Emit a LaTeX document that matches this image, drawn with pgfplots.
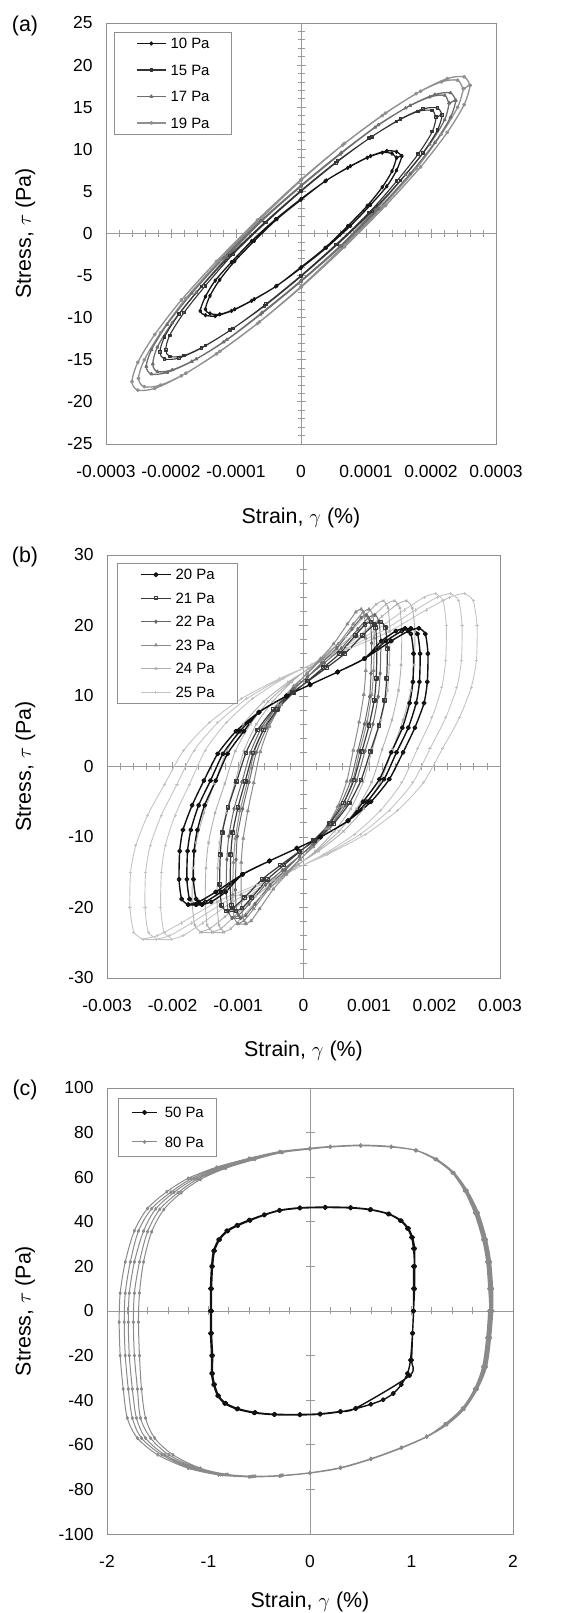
\documentclass[border=0pt]{standalone}
\usepackage{fontspec}
\setmainfont{Liberation Sans}
\usepackage{pgfplots}
\pgfplotsset{compat=1.18}
\definecolor{framegray}{HTML}{8F8F8F}
\definecolor{axgray}{HTML}{9A9A9A}
\definecolor{ca}{HTML}{151515}
\definecolor{cb}{HTML}{333333}
\definecolor{cc}{HTML}{6E6E6E}
\definecolor{cd}{HTML}{909090}
\definecolor{b20}{HTML}{111111}
\definecolor{b21}{HTML}{3A3A3A}
\definecolor{b22}{HTML}{6A6A6A}
\definecolor{b23}{HTML}{8C8C8C}
\definecolor{b24}{HTML}{B0B0B0}
\definecolor{b25}{HTML}{C4C4C4}
\definecolor{c80}{HTML}{8A8A8A}
\pgfplotsset{
  centeraxis/.style={
    scale only axis, anchor=south west,
    axis lines=middle,
    axis line style={axgray, line width=0.8bp, -},
    tick style={axgray, line width=0.8bp},
    tick align=center,
    major tick length=9bp, minor tick length=7bp,
    xticklabels={}, yticklabels={}, scaled ticks=false,
  },
  dataaxis/.style={
    scale only axis, anchor=south west,
    axis line style={framegray, line width=0.9bp},
    tick style={draw=none}, scaled ticks=false,
    ticklabel style={font=\fontsize{17.5}{20}\selectfont},
    xticklabel style={yshift=-18bp},
    yticklabel style={xshift=-10bp},
    label style={font=\fontsize{21.5}{25}\selectfont},
    xlabel style={anchor=center},
    ylabel style={anchor=center},
    legend cell align=left,
    legend style={draw=framegray, line width=0.8bp, font=\fontsize{15}{18}\selectfont,
      anchor=north west, column sep=4bp,
      nodes={inner sep=0bp, text height=10.5bp, text depth=0bp}},
    every axis plot/.append style={line join=round, mark options={solid}},
  },
}
\begin{document}
\begin{tikzpicture}
\useasboundingbox (0,0) rectangle (573bp,1613bp);
\node[font=\fontsize{21.5}{25}\selectfont] at (25bp,1587bp) {(a)};
\node[font=\fontsize{21.5}{25}\selectfont] at (25bp,1056bp) {(b)};
\node[font=\fontsize{21.5}{25}\selectfont] at (25bp,523bp) {(c)};
% ---------------- panel (a)
\begin{axis}[centeraxis, at={(106bp,1169bp)}, width=390bp, height=421bp,
  xmin=-0.0003, xmax=0.0003, ymin=-25, ymax=25,
  xtick={-0.0003,-0.0002,-0.0001,0,0.0001,0.0002,0.0003}, ytick={-25,-20,...,25},
  minor x tick num=4, minor y tick num=4]
\end{axis}
\begin{axis}[dataaxis, at={(106bp,1169bp)}, width=390bp, height=421bp,
  xmin=-0.0003, xmax=0.0003, ymin=-25, ymax=25,
  xtick={-0.0003,-0.0002,-0.0001,0,0.0001,0.0002,0.0003},
  xticklabels={-0.0003,-0.0002,-0.0001,0,0.0001,0.0002,0.0003},
  ytick={-25,-20,...,25}, yticklabels={-25,-20,-15,-10,-5,0,5,10,15,20,25},
  xlabel={Strain, $\gamma$ (\%)}, ylabel={Stress, $\tau$ (Pa)},
  xlabel style={at={(axis description cs:0.5,-0.175)}},
  ylabel style={at={(axis description cs:-0.207,0.5)}},
  legend style={at={(0.02,0.979)}, inner xsep=22bp, inner ysep=6bp, row sep=16bp},
  legend image code/.code={\draw[mark repeat=2,mark phase=2,#1] plot coordinates {(0bp,0bp) (14.5bp,0bp) (29bp,0bp)};},
  reverse legend]
\addplot[cd, line width=1.3bp, smooth, tension=0.5, mark=*, mark size=1.3bp] coordinates {
(2.60e-4,17.6) (2.51e-4,18.6) (2.25e-4,18.4) (1.84e-4,16.9) (1.30e-4,14.3) (0.67e-4,10.7) (0,6.4) (-0.67e-4,1.6) (-1.30e-4,-3.3) (-1.84e-4,-7.9) (-2.25e-4,-12.0) (-2.51e-4,-15.3) (-2.60e-4,-17.6) (-2.51e-4,-18.6) (-2.25e-4,-18.4) (-1.84e-4,-16.9) (-1.30e-4,-14.3) (-0.67e-4,-10.7) (0,-6.4) (0.67e-4,-1.6) (1.30e-4,3.3) (1.84e-4,7.9) (2.25e-4,12.0) (2.51e-4,15.3) (2.60e-4,17.6)
(2.50e-4,17.2) (2.41e-4,18.2) (2.16e-4,18.0) (1.77e-4,16.6) (1.25e-4,14.0) (0.64e-4,10.5) (0,6.3) (-0.64e-4,1.6) (-1.25e-4,-3.2) (-1.77e-4,-7.7) (-2.16e-4,-11.8) (-2.41e-4,-15.0) (-2.50e-4,-17.2) (-2.41e-4,-18.2) (-2.16e-4,-18.0) (-1.77e-4,-16.6) (-1.25e-4,-14.0) (-0.64e-4,-10.5) (0,-6.3) (0.64e-4,-1.6) (1.25e-4,3.2) (1.77e-4,7.7) (2.16e-4,11.8) (2.41e-4,15.0) (2.50e-4,17.2)
};
\addlegendentry{19 Pa}
\addplot[cc, line width=1.3bp, smooth, tension=0.5, mark=triangle*, mark size=1.4bp] coordinates {
(2.38e-4,15.8) (2.30e-4,16.7) (2.06e-4,16.5) (1.68e-4,15.2) (1.19e-4,12.9) (0.62e-4,9.6) (0,5.7) (-0.62e-4,1.5) (-1.19e-4,-2.9) (-1.68e-4,-7.1) (-2.06e-4,-10.8) (-2.30e-4,-13.8) (-2.38e-4,-15.8) (-2.30e-4,-16.7) (-2.06e-4,-16.5) (-1.68e-4,-15.2) (-1.19e-4,-12.9) (-0.62e-4,-9.6) (0,-5.7) (0.62e-4,-1.5) (1.19e-4,2.9) (1.68e-4,7.1) (2.06e-4,10.8) (2.30e-4,13.8) (2.38e-4,15.8)
(2.28e-4,15.5) (2.21e-4,16.4) (1.98e-4,16.2) (1.61e-4,14.9) (1.14e-4,12.6) (0.60e-4,9.4) (0,5.6) (-0.60e-4,1.5) (-1.14e-4,-2.8) (-1.61e-4,-7.0) (-1.98e-4,-10.6) (-2.21e-4,-13.5) (-2.28e-4,-15.5) (-2.21e-4,-16.4) (-1.98e-4,-16.2) (-1.61e-4,-14.9) (-1.14e-4,-12.6) (-0.60e-4,-9.4) (0,-5.6) (0.60e-4,-1.5) (1.14e-4,2.8) (1.61e-4,7.0) (1.98e-4,10.6) (2.21e-4,13.5) (2.28e-4,15.5)
};
\addlegendentry{17 Pa}
\addplot[cb, line width=1.1bp, smooth, tension=0.5, mark=square, mark size=1.3bp] coordinates {
(2.17e-4,14.1) (2.10e-4,14.9) (1.88e-4,14.8) (1.53e-4,13.6) (1.09e-4,11.5) (0.56e-4,8.6) (0,5.1) (-0.56e-4,1.3) (-1.09e-4,-2.6) (-1.53e-4,-6.3) (-1.88e-4,-9.6) (-2.10e-4,-12.3) (-2.17e-4,-14.1) (-2.10e-4,-14.9) (-1.88e-4,-14.8) (-1.53e-4,-13.6) (-1.09e-4,-11.5) (-0.56e-4,-8.6) (0,-5.1) (0.56e-4,-1.3) (1.09e-4,2.6) (1.53e-4,6.3) (1.88e-4,9.6) (2.10e-4,12.3) (2.17e-4,14.1)
(2.08e-4,13.8) (2.02e-4,14.6) (1.80e-4,14.5) (1.47e-4,13.3) (1.05e-4,11.3) (0.54e-4,8.4) (0,5.0) (-0.54e-4,1.3) (-1.05e-4,-2.5) (-1.47e-4,-6.2) (-1.80e-4,-9.4) (-2.02e-4,-12.1) (-2.08e-4,-13.8) (-2.02e-4,-14.6) (-1.80e-4,-14.5) (-1.47e-4,-13.3) (-1.05e-4,-11.3) (-0.54e-4,-8.4) (0,-5.0) (0.54e-4,-1.3) (1.05e-4,2.5) (1.47e-4,6.2) (1.80e-4,9.4) (2.02e-4,12.1) (2.08e-4,13.8)
};
\addlegendentry{15 Pa}
\addplot[ca, line width=1.3bp, smooth, tension=0.5, mark=diamond*, mark size=1.5bp] coordinates {
(1.55e-4,9.2) (1.47e-4,9.7) (1.32e-4,9.8) (1.07e-4,9.2) (0.76e-4,8.0) (0.39e-4,6.3) (0,4.1) (-0.39e-4,1.7) (-0.76e-4,-0.9) (-1.07e-4,-3.4) (-1.32e-4,-5.6) (-1.47e-4,-7.5) (-1.55e-4,-9.2) (-1.47e-4,-9.7) (-1.32e-4,-9.8) (-1.07e-4,-9.2) (-0.76e-4,-8.0) (-0.39e-4,-6.3) (0,-4.1) (0.39e-4,-1.7) (0.76e-4,0.9) (1.07e-4,3.4) (1.32e-4,5.6) (1.47e-4,7.5) (1.55e-4,9.2)
(1.47e-4,9.0) (1.40e-4,9.5) (1.25e-4,9.6) (1.02e-4,9.0) (0.72e-4,7.8) (0.37e-4,6.2) (0,4.0) (-0.37e-4,1.7) (-0.72e-4,-0.9) (-1.02e-4,-3.3) (-1.25e-4,-5.5) (-1.40e-4,-7.4) (-1.47e-4,-9.0) (-1.40e-4,-9.5) (-1.25e-4,-9.6) (-1.02e-4,-9.0) (-0.72e-4,-7.8) (-0.37e-4,-6.2) (0,-4.0) (0.37e-4,-1.7) (0.72e-4,0.9) (1.02e-4,3.3) (1.25e-4,5.5) (1.40e-4,7.4) (1.47e-4,9.0)
};
\addlegendentry{10 Pa}
\end{axis}
% ---------------- panel (b)
\begin{axis}[centeraxis, at={(107bp,635bp)}, width=393bp, height=423bp,
  xmin=-0.003, xmax=0.003, ymin=-30, ymax=30,
  xtick={-0.003,-0.002,-0.001,0,0.001,0.002,0.003}, ytick={-30,-20,...,30},
  minor x tick num=4, minor y tick num=4]
\end{axis}
\begin{axis}[dataaxis, at={(107bp,635bp)}, width=393bp, height=423bp,
  xmin=-0.003, xmax=0.003, ymin=-30, ymax=30,
  xtick={-0.003,-0.002,-0.001,0,0.001,0.002,0.003},
  xticklabels={-0.003,-0.002,-0.001,0,0.001,0.002,0.003},
  ytick={-30,-20,...,30}, yticklabels={-30,-20,-10,0,10,20,30},
  xlabel={Strain, $\gamma$ (\%)}, ylabel={Stress, $\tau$ (Pa)},
  xlabel style={at={(axis description cs:0.5,-0.172)}},
  ylabel style={at={(axis description cs:-0.208,0.5)}},
  legend style={at={(0.025,0.981)}, inner xsep=23bp, inner ysep=6bp, row sep=13bp},
  legend image code/.code={\draw[mark repeat=2,mark phase=2,#1] plot coordinates {(0bp,0bp) (15bp,0bp) (30bp,0bp)};},
  reverse legend]
\addplot[b25, line width=0.9bp, smooth, tension=0.4, mark=+, mark size=1.6bp] coordinates {
(-2.45e-3,-24.5) (-2.59e-3,-23.5) (-2.65e-3,-20.0) (-2.64e-3,-15.0) (-2.56e-3,-11.2) (-2.38e-3,-6.9) (-2.12e-3,-2.5) (-1.83e-3,2.3) (-1.44e-3,6.2) (-0.95e-3,9.6) (-0.36e-3,12.5) (0.14e-3,14.5) (0.72e-3,16.8) (1.30e-3,19.1) (1.87e-3,22.2) (2.23e-3,24.0) (2.45e-3,24.5) (2.59e-3,23.5) (2.65e-3,20.0) (2.64e-3,15.0) (2.56e-3,11.2) (2.38e-3,6.9) (2.12e-3,2.5) (1.83e-3,-2.3) (1.44e-3,-6.2) (0.95e-3,-9.6) (0.36e-3,-12.5) (-0.14e-3,-14.5) (-0.72e-3,-16.8) (-1.30e-3,-19.1) (-1.87e-3,-22.2) (-2.23e-3,-24.0) (-2.45e-3,-24.5)
(-2.24e-3,-24.5) (-2.37e-3,-23.5) (-2.42e-3,-20.0) (-2.41e-3,-15.0) (-2.34e-3,-11.2) (-2.17e-3,-6.9) (-1.93e-3,-2.5) (-1.67e-3,2.3) (-1.31e-3,6.2) (-0.87e-3,9.6) (-0.33e-3,12.5) (0.13e-3,14.5) (0.66e-3,16.8) (1.18e-3,19.1) (1.71e-3,22.2) (2.04e-3,24.0) (2.24e-3,24.5) (2.37e-3,23.5) (2.42e-3,20.0) (2.41e-3,15.0) (2.34e-3,11.2) (2.17e-3,6.9) (1.93e-3,2.5) (1.67e-3,-2.3) (1.31e-3,-6.2) (0.87e-3,-9.6) (0.33e-3,-12.5) (-0.13e-3,-14.5) (-0.66e-3,-16.8) (-1.18e-3,-19.1) (-1.71e-3,-22.2) (-2.04e-3,-24.0) (-2.24e-3,-24.5)
(-2.01e-3,-24.5) (-2.13e-3,-23.5) (-2.18e-3,-20.0) (-2.17e-3,-15.0) (-2.11e-3,-11.2) (-1.96e-3,-6.9) (-1.74e-3,-2.5) (-1.50e-3,2.3) (-1.18e-3,6.2) (-0.78e-3,9.6) (-0.30e-3,12.5) (0.12e-3,14.5) (0.59e-3,16.8) (1.07e-3,19.1) (1.54e-3,22.2) (1.84e-3,24.0) (2.01e-3,24.5) (2.13e-3,23.5) (2.18e-3,20.0) (2.17e-3,15.0) (2.11e-3,11.2) (1.96e-3,6.9) (1.74e-3,2.5) (1.50e-3,-2.3) (1.18e-3,-6.2) (0.78e-3,-9.6) (0.30e-3,-12.5) (-0.12e-3,-14.5) (-0.59e-3,-16.8) (-1.07e-3,-19.1) (-1.54e-3,-22.2) (-1.84e-3,-24.0) (-2.01e-3,-24.5)
};
\addlegendentry{25 Pa}
\addplot[b24, line width=0.9bp, smooth, tension=0.4, mark=x, mark size=1.6bp] coordinates {
(-1.57e-3,-23.5) (-1.66e-3,-22.5) (-1.70e-3,-19.2) (-1.69e-3,-14.4) (-1.64e-3,-10.8) (-1.52e-3,-6.6) (-1.36e-3,-2.4) (-1.17e-3,2.2) (-0.92e-3,6.0) (-0.61e-3,9.2) (-0.23e-3,12.0) (0.09e-3,13.9) (0.46e-3,16.1) (0.83e-3,18.4) (1.20e-3,21.3) (1.43e-3,23.0) (1.57e-3,23.5) (1.66e-3,22.5) (1.70e-3,19.2) (1.69e-3,14.4) (1.64e-3,10.8) (1.52e-3,6.6) (1.36e-3,2.4) (1.17e-3,-2.2) (0.92e-3,-6.0) (0.61e-3,-9.2) (0.23e-3,-12.0) (-0.09e-3,-13.9) (-0.46e-3,-16.1) (-0.83e-3,-18.4) (-1.20e-3,-21.3) (-1.43e-3,-23.0) (-1.57e-3,-23.5)
(-1.39e-3,-23.5) (-1.47e-3,-22.5) (-1.50e-3,-19.2) (-1.49e-3,-14.4) (-1.45e-3,-10.8) (-1.35e-3,-6.6) (-1.20e-3,-2.4) (-1.04e-3,2.2) (-0.81e-3,6.0) (-0.54e-3,9.2) (-0.20e-3,12.0) (0.08e-3,13.9) (0.41e-3,16.1) (0.73e-3,18.4) (1.06e-3,21.3) (1.26e-3,23.0) (1.39e-3,23.5) (1.47e-3,22.5) (1.50e-3,19.2) (1.49e-3,14.4) (1.45e-3,10.8) (1.35e-3,6.6) (1.20e-3,2.4) (1.04e-3,-2.2) (0.81e-3,-6.0) (0.54e-3,-9.2) (0.20e-3,-12.0) (-0.08e-3,-13.9) (-0.41e-3,-16.1) (-0.73e-3,-18.4) (-1.06e-3,-21.3) (-1.26e-3,-23.0) (-1.39e-3,-23.5)
(-1.22e-3,-23.5) (-1.29e-3,-22.5) (-1.32e-3,-19.2) (-1.31e-3,-14.4) (-1.28e-3,-10.8) (-1.18e-3,-6.6) (-1.05e-3,-2.4) (-0.91e-3,2.2) (-0.72e-3,6.0) (-0.47e-3,9.2) (-0.18e-3,12.0) (0.07e-3,13.9) (0.36e-3,16.1) (0.65e-3,18.4) (0.93e-3,21.3) (1.11e-3,23.0) (1.22e-3,23.5) (1.29e-3,22.5) (1.32e-3,19.2) (1.31e-3,14.4) (1.28e-3,10.8) (1.18e-3,6.6) (1.05e-3,2.4) (0.91e-3,-2.2) (0.72e-3,-6.0) (0.47e-3,-9.2) (0.18e-3,-12.0) (-0.07e-3,-13.9) (-0.36e-3,-16.1) (-0.65e-3,-18.4) (-0.93e-3,-21.3) (-1.11e-3,-23.0) (-1.22e-3,-23.5)
};
\addlegendentry{24 Pa}
\addplot[b23, line width=1bp, smooth, tension=0.4, mark=triangle*, mark size=1.6bp] coordinates {
(-1.00e-3,-22.3) (-1.06e-3,-21.4) (-1.08e-3,-18.2) (-1.07e-3,-13.6) (-1.04e-3,-10.2) (-0.97e-3,-6.3) (-0.86e-3,-2.3) (-0.75e-3,2.1) (-0.59e-3,5.7) (-0.39e-3,8.8) (-0.15e-3,11.4) (0.06e-3,13.2) (0.29e-3,15.3) (0.53e-3,17.4) (0.76e-3,20.2) (0.91e-3,21.9) (1.00e-3,22.3) (1.06e-3,21.4) (1.08e-3,18.2) (1.07e-3,13.6) (1.04e-3,10.2) (0.97e-3,6.3) (0.86e-3,2.3) (0.75e-3,-2.1) (0.59e-3,-5.7) (0.39e-3,-8.8) (0.15e-3,-11.4) (-0.06e-3,-13.2) (-0.29e-3,-15.3) (-0.53e-3,-17.4) (-0.76e-3,-20.2) (-0.91e-3,-21.9) (-1.00e-3,-22.3)
(-0.88e-3,-22.3) (-0.93e-3,-21.4) (-0.95e-3,-18.2) (-0.95e-3,-13.6) (-0.92e-3,-10.2) (-0.85e-3,-6.3) (-0.76e-3,-2.3) (-0.66e-3,2.1) (-0.52e-3,5.7) (-0.34e-3,8.8) (-0.13e-3,11.4) (0.05e-3,13.2) (0.26e-3,15.3) (0.46e-3,17.4) (0.67e-3,20.2) (0.80e-3,21.9) (0.88e-3,22.3) (0.93e-3,21.4) (0.95e-3,18.2) (0.95e-3,13.6) (0.92e-3,10.2) (0.85e-3,6.3) (0.76e-3,2.3) (0.66e-3,-2.1) (0.52e-3,-5.7) (0.34e-3,-8.8) (0.13e-3,-11.4) (-0.05e-3,-13.2) (-0.26e-3,-15.3) (-0.46e-3,-17.4) (-0.67e-3,-20.2) (-0.80e-3,-21.9) (-0.88e-3,-22.3)
};
\addlegendentry{23 Pa}
\addplot[b22, line width=1bp, smooth, tension=0.4, mark=diamond*, mark size=1.6bp] coordinates {
(-1.09e-3,-21.5) (-1.15e-3,-20.6) (-1.18e-3,-17.5) (-1.17e-3,-13.2) (-1.14e-3,-9.9) (-1.06e-3,-6.0) (-0.94e-3,-2.2) (-0.81e-3,2.0) (-0.64e-3,5.5) (-0.42e-3,8.4) (-0.16e-3,11.0) (0.06e-3,12.7) (0.32e-3,14.7) (0.58e-3,16.8) (0.83e-3,19.5) (0.99e-3,21.1) (1.09e-3,21.5) (1.15e-3,20.6) (1.18e-3,17.5) (1.17e-3,13.2) (1.14e-3,9.9) (1.06e-3,6.0) (0.94e-3,2.2) (0.81e-3,-2.0) (0.64e-3,-5.5) (0.42e-3,-8.4) (0.16e-3,-11.0) (-0.06e-3,-12.7) (-0.32e-3,-14.7) (-0.58e-3,-16.8) (-0.83e-3,-19.5) (-0.99e-3,-21.1) (-1.09e-3,-21.5)
(-0.96e-3,-21.5) (-1.02e-3,-20.6) (-1.04e-3,-17.5) (-1.03e-3,-13.2) (-1.01e-3,-9.9) (-0.93e-3,-6.0) (-0.83e-3,-2.2) (-0.72e-3,2.0) (-0.56e-3,5.5) (-0.37e-3,8.4) (-0.14e-3,11.0) (0.06e-3,12.7) (0.28e-3,14.7) (0.51e-3,16.8) (0.74e-3,19.5) (0.88e-3,21.1) (0.96e-3,21.5) (1.02e-3,20.6) (1.04e-3,17.5) (1.03e-3,13.2) (1.01e-3,9.9) (0.93e-3,6.0) (0.83e-3,2.2) (0.72e-3,-2.0) (0.56e-3,-5.5) (0.37e-3,-8.4) (0.14e-3,-11.0) (-0.06e-3,-12.7) (-0.28e-3,-14.7) (-0.51e-3,-16.8) (-0.74e-3,-19.5) (-0.88e-3,-21.1) (-0.96e-3,-21.5)
};
\addlegendentry{22 Pa}
\addplot[b21, line width=1.2bp, smooth, tension=0.4, mark=square, mark size=1.7bp] coordinates {
(-1.18e-3,-20.5) (-1.25e-3,-19.7) (-1.28e-3,-16.7) (-1.27e-3,-12.5) (-1.24e-3,-9.4) (-1.15e-3,-5.8) (-1.02e-3,-2.1) (-0.88e-3,1.9) (-0.70e-3,5.2) (-0.46e-3,8.1) (-0.17e-3,10.5) (0.07e-3,12.1) (0.35e-3,14.0) (0.63e-3,16.0) (0.90e-3,18.6) (1.08e-3,20.1) (1.18e-3,20.5) (1.25e-3,19.7) (1.28e-3,16.7) (1.27e-3,12.5) (1.24e-3,9.4) (1.15e-3,5.8) (1.02e-3,2.1) (0.88e-3,-1.9) (0.70e-3,-5.2) (0.46e-3,-8.1) (0.17e-3,-10.5) (-0.07e-3,-12.1) (-0.35e-3,-14.0) (-0.63e-3,-16.0) (-0.90e-3,-18.6) (-1.08e-3,-20.1) (-1.18e-3,-20.5)
(-1.03e-3,-20.5) (-1.10e-3,-19.7) (-1.12e-3,-16.7) (-1.11e-3,-12.5) (-1.08e-3,-9.4) (-1.00e-3,-5.8) (-0.89e-3,-2.1) (-0.77e-3,1.9) (-0.61e-3,5.2) (-0.40e-3,8.1) (-0.15e-3,10.5) (0.06e-3,12.1) (0.30e-3,14.0) (0.55e-3,16.0) (0.79e-3,18.6) (0.94e-3,20.1) (1.03e-3,20.5) (1.10e-3,19.7) (1.12e-3,16.7) (1.11e-3,12.5) (1.08e-3,9.4) (1.00e-3,5.8) (0.89e-3,2.1) (0.77e-3,-1.9) (0.61e-3,-5.2) (0.40e-3,-8.1) (0.15e-3,-10.5) (-0.06e-3,-12.1) (-0.30e-3,-14.0) (-0.55e-3,-16.0) (-0.79e-3,-18.6) (-0.94e-3,-20.1) (-1.03e-3,-20.5)
};
\addlegendentry{21 Pa}
\addplot[b20, line width=1.4bp, smooth, tension=0.4, mark=o, mark size=1.8bp] coordinates {
(-1.76e-3,-19.6) (-1.86e-3,-18.8) (-1.90e-3,-16.0) (-1.89e-3,-12.0) (-1.84e-3,-9.0) (-1.70e-3,-5.5) (-1.52e-3,-2.0) (-1.31e-3,1.8) (-1.03e-3,5.0) (-0.68e-3,7.7) (-0.26e-3,10.0) (0.10e-3,11.6) (0.52e-3,13.4) (0.93e-3,15.3) (1.34e-3,17.8) (1.60e-3,19.2) (1.76e-3,19.6) (1.86e-3,18.8) (1.90e-3,16.0) (1.89e-3,12.0) (1.84e-3,9.0) (1.70e-3,5.5) (1.52e-3,2.0) (1.31e-3,-1.8) (1.03e-3,-5.0) (0.68e-3,-7.7) (0.26e-3,-10.0) (-0.10e-3,-11.6) (-0.52e-3,-13.4) (-0.93e-3,-15.3) (-1.34e-3,-17.8) (-1.60e-3,-19.2) (-1.76e-3,-19.6)
(-1.64e-3,-19.6) (-1.74e-3,-18.8) (-1.78e-3,-16.0) (-1.77e-3,-12.0) (-1.72e-3,-9.0) (-1.60e-3,-5.5) (-1.42e-3,-2.0) (-1.23e-3,1.8) (-0.97e-3,5.0) (-0.68e-3,7.7) (-0.26e-3,10.0) (0.10e-3,11.6) (0.52e-3,13.4) (0.93e-3,15.3) (1.26e-3,17.8) (1.50e-3,19.2) (1.64e-3,19.6) (1.74e-3,18.8) (1.78e-3,16.0) (1.77e-3,12.0) (1.72e-3,9.0) (1.60e-3,5.5) (1.42e-3,2.0) (1.23e-3,-1.8) (0.97e-3,-5.0) (0.68e-3,-7.7) (0.26e-3,-10.0) (-0.10e-3,-11.6) (-0.52e-3,-13.4) (-0.93e-3,-15.3) (-1.26e-3,-17.8) (-1.50e-3,-19.2) (-1.64e-3,-19.6)
(-1.55e-3,-19.6) (-1.64e-3,-18.8) (-1.68e-3,-16.0) (-1.67e-3,-12.0) (-1.62e-3,-9.0) (-1.51e-3,-5.5) (-1.34e-3,-2.0) (-1.16e-3,1.8) (-0.91e-3,5.0) (-0.68e-3,7.7) (-0.26e-3,10.0) (0.10e-3,11.6) (0.52e-3,13.4) (0.93e-3,15.3) (1.19e-3,17.8) (1.41e-3,19.2) (1.55e-3,19.6) (1.64e-3,18.8) (1.68e-3,16.0) (1.67e-3,12.0) (1.62e-3,9.0) (1.51e-3,5.5) (1.34e-3,2.0) (1.16e-3,-1.8) (0.91e-3,-5.0) (0.68e-3,-7.7) (0.26e-3,-10.0) (-0.10e-3,-11.6) (-0.52e-3,-13.4) (-0.93e-3,-15.3) (-1.19e-3,-17.8) (-1.41e-3,-19.2) (-1.55e-3,-19.6)
};
\addlegendentry{20 Pa}
\end{axis}
% ---------------- panel (c)
\begin{axis}[centeraxis, at={(107bp,79bp)}, width=406bp, height=446bp,
  xmin=-2, xmax=2, ymin=-100, ymax=100,
  xtick={-2,-1,0,1,2}, ytick={-100,-80,...,100},
  minor x tick num=4]
\end{axis}
\begin{axis}[dataaxis, at={(107bp,79bp)}, width=406bp, height=446bp,
  xmin=-2, xmax=2, ymin=-100, ymax=100,
  xtick={-2,-1,0,1,2}, xticklabels={-2,-1,0,1,2},
  ytick={-100,-80,...,100}, yticklabels={-100,-80,-60,-40,-20,0,20,40,60,80,100},
  xlabel={Strain, $\gamma$ (\%)}, ylabel={Stress, $\tau$ (Pa)},
  xlabel style={at={(axis description cs:0.5,-0.152)}},
  ylabel style={at={(axis description cs:-0.202,0.5)}},
  legend style={at={(0.027,0.978)}, inner xsep=13bp, inner ysep=9bp, row sep=19bp, column sep=7bp},
  legend image code/.code={\draw[mark repeat=2,mark phase=2,#1] plot coordinates {(0bp,0bp) (12.5bp,0bp) (25bp,0bp)};},
  reverse legend]
\addplot[c80, line width=1bp, smooth, tension=0.5, mark=diamond*, mark size=1.4bp] coordinates {
(1.80,0) (1.80,10) (1.78,22) (1.74,32) (1.66,44) (1.55,54) (1.42,62) (1.25,68) (1.05,72) (0.8,73.8) (0.5,74.4) (0.2,73.8) (0,73) (-0.3,71.5) (-0.6,68.5) (-0.92,64.5) (-1.2,59.5) (-1.41,53.5) (-1.6,46) (-1.73,36) (-1.82,22) (-1.87,8) (-1.88,-5) (-1.87,-20) (-1.84,-35) (-1.8,-48) (-1.7,-57) (-1.5,-64.5) (-1.2,-70.5) (-0.9,-73.5) (-0.6,-74.4) (-0.3,-74) (0,-72.7) (0.3,-70.5) (0.6,-66.5) (0.9,-61.5) (1.15,-56.5) (1.35,-51) (1.52,-44) (1.65,-35) (1.74,-25) (1.78,-12) (1.80,0)
(1.79,10) (1.77,22) (1.73,32) (1.65,44) (1.54,54) (1.41,62) (1.25,68) (1.05,72) (0.8,73.7) (0.5,74.3) (0.2,73.7) (0,72.9) (-0.29,71.4) (-0.59,68.4) (-0.9,64.3) (-1.17,59.3) (-1.37,53.3) (-1.56,45.9) (-1.69,35.9) (-1.77,22) (-1.82,8) (-1.83,-5) (-1.82,-20) (-1.79,-35) (-1.75,-48) (-1.66,-57) (-1.46,-64.5) (-1.17,-70.5) (-0.88,-73.4) (-0.59,-74.3) (-0.29,-73.9) (0,-72.6) (0.3,-70.4) (0.6,-66.4) (0.9,-61.4) (1.15,-56.4) (1.34,-50.9) (1.51,-43.9) (1.64,-35) (1.73,-25) (1.77,-12) (1.79,0)
(1.78,10) (1.76,22) (1.72,32) (1.64,44) (1.53,54) (1.41,62) (1.24,68) (1.04,72) (0.8,73.6) (0.5,74.2) (0.2,73.6) (0,72.8) (-0.29,71.3) (-0.57,68.3) (-0.87,64.2) (-1.14,59.2) (-1.34,53.2) (-1.52,45.8) (-1.64,35.8) (-1.73,22) (-1.78,8) (-1.79,-5) (-1.78,-20) (-1.75,-35) (-1.71,-48) (-1.62,-57) (-1.43,-64.5) (-1.14,-70.5) (-0.86,-73.4) (-0.57,-74.2) (-0.29,-73.8) (0,-72.6) (0.3,-70.3) (0.6,-66.3) (0.9,-61.3) (1.15,-56.3) (1.34,-50.8) (1.51,-43.8) (1.63,-35) (1.72,-25) (1.76,-12) (1.78,0)
(1.77,10) (1.75,22) (1.71,32) (1.63,44) (1.52,54) (1.40,62) (1.24,68) (1.04,72) (0.8,73.5) (0.5,74.1) (0.2,73.5) (0,72.7) (-0.28,71.2) (-0.56,68.1) (-0.85,64.1) (-1.11,59.1) (-1.30,53.1) (-1.48,45.6) (-1.60,35.6) (-1.68,22) (-1.73,8) (-1.74,-5) (-1.73,-20) (-1.70,-35) (-1.67,-48) (-1.57,-57) (-1.39,-64.5) (-1.11,-70.5) (-0.83,-73.3) (-0.56,-74.1) (-0.28,-73.7) (0,-72.5) (0.3,-70.2) (0.6,-66.2) (0.9,-61.2) (1.15,-56.2) (1.33,-50.7) (1.50,-43.7) (1.62,-35) (1.71,-25) (1.75,-12) (1.77,0)
(1.76,10) (1.74,22) (1.70,32) (1.62,44) (1.52,54) (1.40,62) (1.23,68) (1.04,72) (0.8,73.5) (0.5,74.1) (0.2,73.5) (0,72.6) (-0.27,71.1) (-0.54,68) (-0.83,64) (-1.08,59) (-1.27,53) (-1.44,45.5) (-1.56,35.5) (-1.64,22) (-1.68,8) (-1.69,-5) (-1.68,-20) (-1.66,-35) (-1.62,-48) (-1.53,-57) (-1.35,-64.5) (-1.08,-70.5) (-0.81,-73.3) (-0.54,-74.1) (-0.27,-73.7) (0,-72.5) (0.3,-70.2) (0.6,-66.2) (0.9,-61.2) (1.15,-56.2) (1.33,-50.6) (1.50,-43.6) (1.62,-35) (1.70,-25) (1.74,-12) (1.76,0)
};
\addlegendentry{80 Pa}
\addplot[b20, line width=1.4bp, smooth, tension=0.5, mark=o, mark size=1.8bp] coordinates {
(1.03,20) (1.03,28) (1.01,33) (0.97,37) (0.9,40.5) (0.78,43.5) (0.6,45.5) (0.4,46.4) (0.15,46.6) (-0.1,46.3) (-0.3,45.2) (-0.45,43.2) (-0.6,40.8) (-0.72,38.5) (-0.82,36) (-0.9,32) (-0.95,27) (-0.97,20) (-0.98,10) (-0.98,0) (-0.98,-10) (-0.97,-20) (-0.97,-28) (-0.95,-33) (-0.91,-38) (-0.84,-41.5) (-0.72,-44) (-0.55,-45.7) (-0.35,-46.5) (-0.1,-46.6) (0.1,-46.3) (0.3,-45.2) (0.45,-43.8) (0.6,-41.8) (0.72,-39.8) (0.82,-37) (0.9,-33) (0.96,-28) (0.99,-22) (1.01,-10) (1.02,0) (1.03,10) (1.03,20)
(1.02,28) (1.0,33) (0.96,37) (0.89,40.5) (0.77,43.5) (0.59,45.4) (0.4,46.2) (0.15,46.4) (-0.1,46.1) (-0.3,45) (-0.45,43) (-0.59,40.6) (-0.71,38.3) (-0.81,35.8) (-0.89,32) (-0.94,27) (-0.96,20) (-0.97,10) (-0.97,0) (-0.97,-10) (-0.96,-20) (-0.96,-28) (-0.94,-33) (-0.9,-38) (-0.83,-41.3) (-0.71,-43.8) (-0.54,-45.5) (-0.35,-46.3) (-0.1,-46.4) (0.1,-46.1) (0.3,-45) (0.45,-43.6) (0.98,-29) (1.0,-22) (1.01,-10) (1.02,0) (1.02,10) (1.02,20)
};
\addlegendentry{50 Pa}
\end{axis}
\end{tikzpicture}
\end{document}
